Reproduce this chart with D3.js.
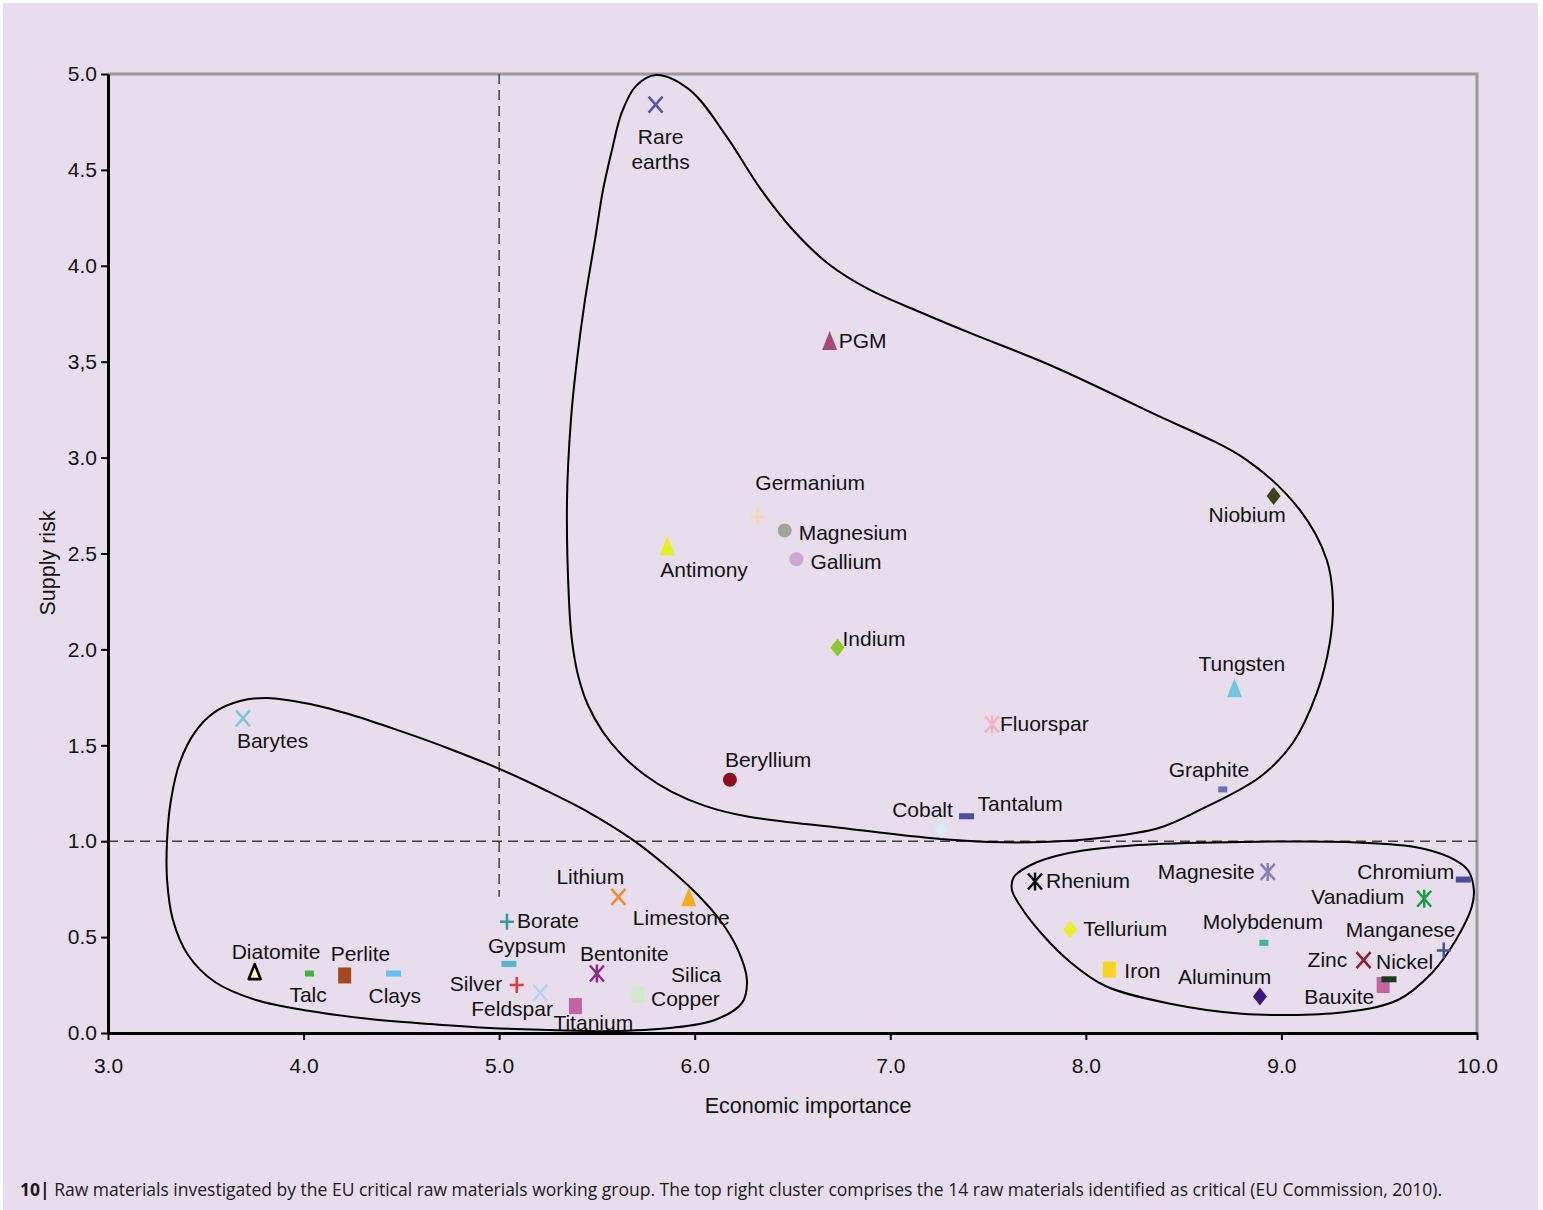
<!DOCTYPE html>
<html>
<head>
<meta charset="utf-8">
<script src="https://cdn.jsdelivr.net/npm/d3@7"></script>
<style>
  html, body { margin: 0; padding: 0; background: #fff; }
  svg { display: block; }
</style>
</head>
<body>
<div id="chart"></div>
<script>
// raw materials: economic importance (x) and supply risk (y)
const materials = ["Rare earths", "PGM", "Germanium", "Magnesium", "Gallium", "Antimony", "Indium",
  "Niobium", "Tungsten", "Fluorspar", "Beryllium", "Graphite", "Tantalum", "Cobalt",
  "Barytes", "Diatomite", "Talc", "Perlite", "Clays", "Borate", "Gypsum", "Silver", "Feldspar",
  "Titanium", "Bentonite", "Lithium", "Limestone", "Silica", "Copper",
  "Rhenium", "Magnesite", "Chromium", "Vanadium", "Tellurium", "Molybdenum", "Manganese",
  "Iron", "Zinc", "Bauxite", "Nickel", "Aluminum"];
const econImportance = [5.80, 6.69, 6.32, 6.46, 6.52, 5.86, 6.73,
  8.96, 8.76, 7.52, 6.18, 8.70, 7.39, 7.26,
  3.69, 3.75, 4.03, 4.21, 4.46, 5.04, 5.05, 5.09, 5.21,
  5.39, 5.50, 5.61, 5.97, 5.71, 5.71,
  7.74, 8.93, 9.93, 9.73, 7.92, 8.91, 9.83,
  8.12, 9.42, 9.52, 9.55, 8.89];
const supplyRisk = [4.84, 3.61, 2.69, 2.62, 2.47, 2.54, 2.01,
  2.80, 1.80, 1.61, 1.32, 1.27, 1.13, 1.06,
  1.64, 0.32, 0.31, 0.30, 0.31, 0.58, 0.36, 0.25, 0.21,
  0.14, 0.31, 0.71, 0.71, 0.20, 0.20,
  0.79, 0.84, 0.80, 0.70, 0.54, 0.47, 0.43,
  0.33, 0.38, 0.25, 0.28, 0.19];

const xTicks = [3, 4, 5, 6, 7, 8, 9, 10];
const xTickLabels = ["3.0", "4.0", "5.0", "6.0", "7.0", "8.0", "9.0", "10.0"];
const yTicks = [0, 0.5, 1, 1.5, 2, 2.5, 3, 3.5, 4, 4.5, 5];
const yTickLabels = ["0.0", "0.5", "1.0", "1.5", "2.0", "2.5", "3.0", "3,5", "4.0", "4.5", "5.0"];

// cluster outlines, in data units [economic importance, supply risk]
const criticalCluster = [[5.802, 4.995], [5.975, 4.917], [6.165, 4.671], [6.333, 4.406], [6.512, 4.176],
  [6.691, 4.004], [6.896, 3.874], [7.151, 3.759], [7.407, 3.650], [7.816, 3.483], [8.327, 3.238],
  [8.823, 2.987], [9.094, 2.727], [9.232, 2.466], [9.263, 2.258], [9.247, 2.033], [9.181, 1.773],
  [9.058, 1.512], [8.890, 1.335], [8.583, 1.163], [8.373, 1.069], [8.072, 1.017], [7.785, 0.996],
  [7.509, 0.996], [7.202, 1.017], [6.793, 1.064], [6.257, 1.131], [6.052, 1.184], [5.883, 1.257],
  [5.745, 1.345], [5.628, 1.449], [5.531, 1.569], [5.454, 1.710], [5.403, 1.867], [5.372, 2.049],
  [5.357, 2.258], [5.347, 2.779], [5.367, 3.196], [5.398, 3.509], [5.439, 3.822], [5.490, 4.135],
  [5.531, 4.395], [5.577, 4.604], [5.628, 4.802], [5.699, 4.937]];
const lowRiskCluster = [[3.813, 1.747], [4.033, 1.715], [4.263, 1.653], [4.493, 1.575], [4.748, 1.481],
  [5.004, 1.376], [5.234, 1.267], [5.464, 1.147], [5.669, 1.017], [5.848, 0.876], [6.001, 0.735],
  [6.129, 0.589], [6.221, 0.433], [6.267, 0.276], [6.241, 0.156], [6.103, 0.068], [5.873, 0.026],
  [5.566, 0.010], [5.260, 0.016], [4.953, 0.026], [4.646, 0.047], [4.339, 0.073], [4.033, 0.115],
  [3.757, 0.172], [3.547, 0.266], [3.409, 0.407], [3.332, 0.589], [3.302, 0.798], [3.302, 1.006],
  [3.322, 1.215], [3.368, 1.413], [3.445, 1.569], [3.547, 1.674], [3.675, 1.731]];
const highImportanceCluster = [[7.719, 0.876], [7.913, 0.938], [8.266, 0.980], [8.798, 0.996],
  [9.329, 0.996], [9.682, 0.970], [9.856, 0.918], [9.953, 0.850], [9.984, 0.746], [9.973, 0.657],
  [9.892, 0.485], [9.769, 0.313], [9.595, 0.172], [9.329, 0.109], [9.063, 0.094], [8.798, 0.100],
  [8.445, 0.150], [8.100, 0.245], [7.920, 0.370], [7.780, 0.511], [7.668, 0.657], [7.622, 0.746],
  [7.632, 0.813]];

const thresholdX = 5;
const thresholdXTop = 0.71;
const thresholdY = 1;

// marker style per material
const shapes = ["x", "tri", "plus", "circle", "circle", "tri", "diamond",
  "diamond", "tri", "star", "circle", "sq", "dash", "diamond",
  "x", "otri", "sq", "rect", "dash", "plus", "dash", "plus", "x",
  "rect", "star", "x", "tri", "rect", "rect",
  "star", "star", "dash", "star", "diamond", "sq", "plus",
  "rect", "x", "rect", "dash", "diamond"];
const colors = ["#5c50a8", "#a8477a", "#fcd9a8", "#a3a39c", "#cba8cf", "#e6f01e", "#8dc828",
  "#3d4316", "#6fc7df", "#f5afc6", "#8c0f1f", "#6470b4", "#4e4c9c", "#d6ecf2",
  "#7cc6de", "#fafab0", "#3cb43c", "#a4481e", "#64c2ee", "#2e9c98", "#55b8ca", "#e8382e", "#b4d2f0",
  "#c462a2", "#92288e", "#f28a2e", "#f2ac1e", "#d2e8cc", "#d2e8cc",
  "#111111", "#8a7eb8", "#4e4c9c", "#12a040", "#e8f02e", "#3cb894", "#4450a0",
  "#f8d41e", "#a01428", "#c462a2", "#1c3a1c", "#3e1480"];
// label placement: offset of the text's left edge / baseline from the marker
const labelOffsets = [[5, 39], [9, 7], [-2, -27], [14, 10], [14, 10], [-7, 31], [5, -1],
  [-65, 26], [-36, -17], [8, 7], [-5, -13], [-54, -12], [11, -5], [-49, -13],
  [-6, 30], [-23, -13], [-20, 28], [-14, -14], [-25, 29], [10, 6], [-21, -11], [-67, 6], [-69, 23],
  [-22, 24], [-17, -13], [-62, -13], [-56, 28], [33, -13], [13, 11],
  [11, 7], [-110, 7], [-106, -1], [-113, 5], [13, 7], [-61, -14], [-98, -14],
  [15, 8], [-56, 7], [-79, 19], [-13, -10], [-82, -13]];

const W = 1543, H = 1210;
const margin = {top: 74, right: 66, bottom: 177, left: 108};
const font = '"Liberation Sans", Arial, Helvetica, sans-serif';

const svg = d3.select('#chart').append('svg')
  .attr('width', W)
  .attr('height', H)
  .style('font-family', font);

svg.append('rect')
  .attr('x', 3).attr('y', 3)
  .attr('width', 1535).attr('height', H - 3)
  .attr('fill', '#e7ddec');

const x = d3.scaleLinear().domain([3, 10]).range([margin.left, W - margin.right]);
const y = d3.scaleLinear().domain([0, 5]).range([H - margin.bottom, margin.top]);

// top / right frame
svg.append('path')
  .attr('d', `M${x(3)},${y(5)}H${x(10)}V${y(0)}`)
  .attr('fill', 'none')
  .attr('stroke', '#9a9a9a')
  .attr('stroke-width', 3);

// threshold lines
svg.append('line')
  .attr('x1', x(thresholdX)).attr('x2', x(thresholdX))
  .attr('y1', y(5)).attr('y2', y(thresholdXTop))
  .attr('stroke', '#404040').attr('stroke-width', 1.5)
  .attr('stroke-dasharray', '10,6');
svg.append('line')
  .attr('x1', x(3)).attr('x2', x(10))
  .attr('y1', y(thresholdY)).attr('y2', y(thresholdY))
  .attr('stroke', '#404040').attr('stroke-width', 1.5)
  .attr('stroke-dasharray', '10,6');

// cluster outlines
const outline = d3.line()
  .x(d => x(d[0]))
  .y(d => y(d[1]))
  .curve(d3.curveCatmullRomClosed.alpha(0.5));

svg.selectAll('path.cluster')
  .data([criticalCluster, lowRiskCluster, highImportanceCluster])
  .enter().append('path')
  .attr('class', 'cluster')
  .attr('d', outline)
  .attr('fill', 'none')
  .attr('stroke', '#000')
  .attr('stroke-width', 2);

// axes
const xAxis = svg.append('g')
  .attr('transform', `translate(0,${y(0)})`)
  .call(d3.axisBottom(x).tickValues(xTicks).tickFormat((d, i) => xTickLabels[i]).tickSize(7).tickSizeOuter(0));
const yAxis = svg.append('g')
  .attr('transform', `translate(${x(3)},0)`)
  .call(d3.axisLeft(y).tickValues(yTicks).tickFormat((d, i) => yTickLabels[i]).tickSize(7).tickSizeOuter(0));

[xAxis, yAxis].forEach(g => {
  g.select('.domain').attr('stroke', '#000').attr('stroke-width', 3);
  g.selectAll('.tick line').attr('stroke', '#000').attr('stroke-width', 2);
  g.selectAll('.tick text')
    .attr('fill', '#111')
    .style('font-size', '21px')
    .style('font-family', font);
});
xAxis.selectAll('.tick text').attr('y', 25).attr('dy', '0.71em');
yAxis.selectAll('.tick text').attr('x', -11);

svg.append('text')
  .attr('x', 808).attr('y', 1113)
  .attr('text-anchor', 'middle')
  .style('font-size', '21.5px')
  .attr('fill', '#111')
  .text('Economic importance');
svg.append('text')
  .attr('transform', `translate(55,563) rotate(-90)`)
  .attr('text-anchor', 'middle')
  .style('font-size', '21.5px')
  .attr('fill', '#111')
  .text('Supply risk');

// markers
const shapePaths = {
  x: 'M-7,-8L7,8M-7,8L7,-8',
  star: 'M-7,-8L7,8M-7,8L7,-8M0,-9V9',
  plus: 'M-7,0H7M0,-8V8',
  tri: 'M0,-9.5L7.5,9.5H-7.5Z',
  otri: 'M0,-7.5L6,7.5H-6Z',
  circle: 'M7,0A7,7 0 1,1 -7,0A7,7 0 1,1 7,0Z',
  diamond: 'M0,-9L7,0L0,9L-7,0Z',
  dash: 'M-7.5,-3H7.5V3H-7.5Z',
  sq: 'M-4.5,-3H4.5V3H-4.5Z',
  rect: 'M-6.5,-8H6.5V8H-6.5Z'
};
const stroked = s => s === 'x' || s === 'star' || s === 'plus';

const points = materials.map((name, i) => ({
  name, ex: econImportance[i], risk: supplyRisk[i],
  shape: shapes[i], color: colors[i], off: labelOffsets[i]
}));

svg.selectAll('path.marker')
  .data(points)
  .enter().append('path')
  .attr('class', 'marker')
  .attr('transform', d => `translate(${x(d.ex)},${y(d.risk)})`)
  .attr('d', d => shapePaths[d.shape])
  .attr('fill', d => stroked(d.shape) ? 'none' : d.color)
  .attr('stroke', d => d.shape === 'otri' ? '#000' : (stroked(d.shape) ? d.color : 'none'))
  .attr('stroke-width', d => d.shape === 'otri' ? 2.6 : 2.5)
  .attr('stroke-linejoin', 'round');

// labels
const labels = svg.selectAll('text.label')
  .data(points)
  .enter().append('text')
  .attr('class', 'label')
  .attr('x', d => x(d.ex) + d.off[0])
  .attr('y', d => y(d.risk) + d.off[1])
  .attr('text-anchor', d => d.name === 'Rare earths' ? 'middle' : 'start')
  .style('font-size', '21px')
  .attr('fill', '#111');

labels.each(function (d) {
  const t = d3.select(this);
  if (d.name === 'Rare earths') {
    t.append('tspan').attr('x', x(d.ex) + d.off[0]).text('Rare');
    t.append('tspan').attr('x', x(d.ex) + d.off[0]).attr('dy', 25).text('earths');
  } else {
    t.text(d.name);
  }
});

// caption
const caption = svg.append('text')
  .attr('x', 20).attr('y', 1196)
  .attr('textLength', 1422)
  .attr('lengthAdjust', 'spacingAndGlyphs')
  .style('font-family', '"Open Sans", "Noto Sans", sans-serif')
  .style('font-size', '17.5px')
  .attr('fill', '#1a1a1a');
caption.append('tspan').style('font-weight', 'bold').text('10|');
caption.append('tspan').text(' Raw materials investigated by the EU critical raw materials working group. The top right cluster comprises the 14 raw materials identified as critical (EU Commission, 2010).');
</script>
</body>
</html>
